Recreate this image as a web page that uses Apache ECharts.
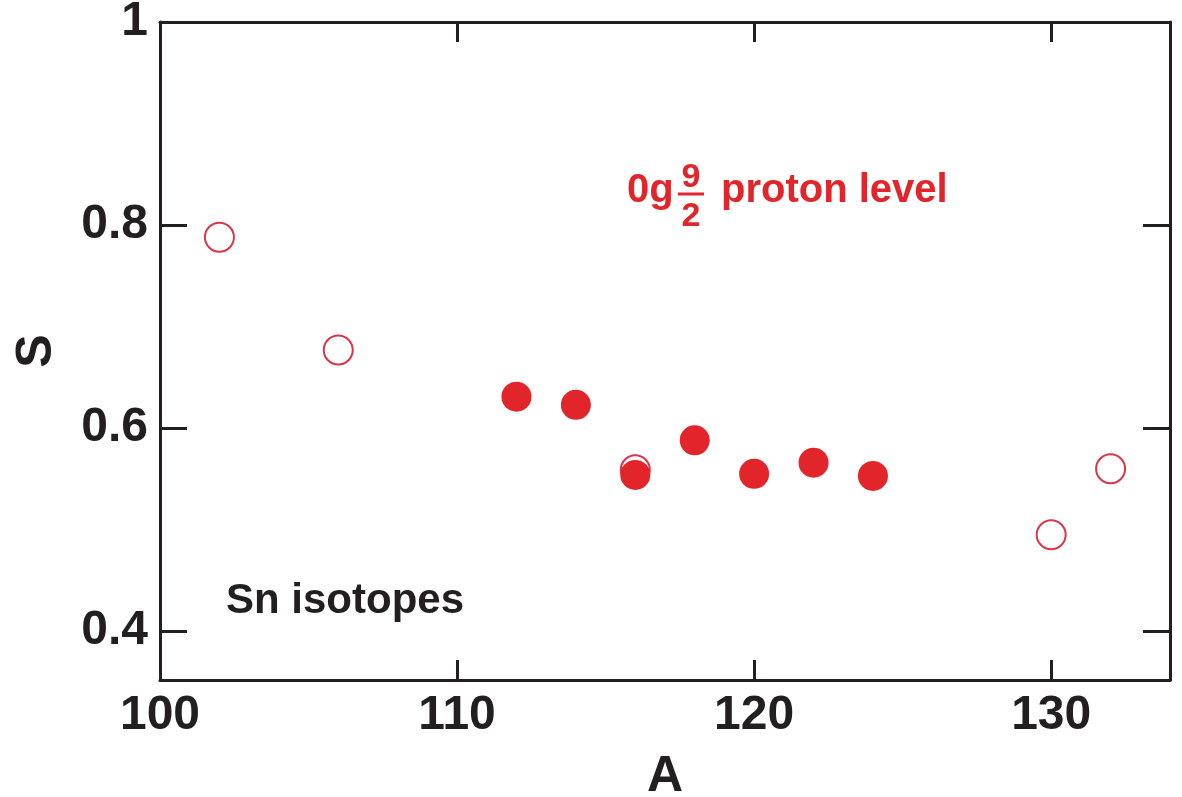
<!DOCTYPE html>
<html>
<head>
<meta charset="utf-8">
<title>Sn isotopes – spectroscopic factor</title>
<script src="https://cdn.jsdelivr.net/npm/echarts@6/dist/echarts.min.js"></script>
<style>
  html, body { margin: 0; padding: 0; background: #ffffff; }
  #chart { width: 1182px; height: 797px; }
</style>
</head>
<body>
<div id="chart"></div>
<script>
// Mass number A and spectroscopic factor S for the 0g9/2 proton level
const openA = [102, 106, 116, 130, 132];
const openS = [0.788, 0.677, 0.559, 0.495, 0.560];
const filledA = [112, 114, 116, 118, 120, 122, 124];
const filledS = [0.631, 0.623, 0.554, 0.588, 0.555, 0.566, 0.553];

const xTicks = [100, 110, 120, 130];
const yTicks = [0.4, 0.6, 0.8, 1];

const INK = '#231f20';
const RED = '#e2252b';
const FONT = '"Liberation Sans", Arial, Helvetica, sans-serif';

const pair = (xs, ys) => xs.map((x, i) => [x, ys[i]]);

const chart = echarts.init(document.getElementById('chart'), null, { renderer: 'canvas' });

const axisLine = { show: true, onZero: false, lineStyle: { color: INK, width: 3 } };

chart.setOption({
  backgroundColor: '#ffffff',
  animation: false,
  grid: { left: 160, right: 12, top: 22, bottom: 117, containLabel: false, outerBoundsMode: 'none' },
  xAxis: [
    {
      type: 'value', position: 'bottom', min: 100, max: 134,
      axisLine: axisLine,
      axisTick: { show: true, inside: true, length: 20, customValues: xTicks, lineStyle: { color: INK, width: 3 } },
      axisLabel: { show: true, customValues: xTicks, margin: 12, color: INK, fontFamily: FONT, fontWeight: 'bold', fontSize: 48 },
      splitLine: { show: false },
      name: 'A', nameLocation: 'middle', nameGap: 72,
      nameTextStyle: { color: INK, fontFamily: FONT, fontWeight: 'bold', fontSize: 50 }
    },
    {
      type: 'value', position: 'top', min: 100, max: 134,
      axisLine: axisLine,
      axisTick: { show: true, inside: true, length: 20, customValues: xTicks, lineStyle: { color: INK, width: 3 } },
      axisLabel: { show: false },
      splitLine: { show: false }
    }
  ],
  yAxis: [
    {
      type: 'value', position: 'left', min: 0.352, max: 1,
      axisLine: axisLine,
      axisTick: { show: true, inside: true, length: 27, customValues: yTicks, lineStyle: { color: INK, width: 3 } },
      axisLabel: { show: true, customValues: yTicks, margin: 12, padding: [8, 0, 0, 0], color: INK, fontFamily: FONT, fontWeight: 'bold', fontSize: 48 },
      splitLine: { show: false },
      name: 'S', nameLocation: 'middle', nameGap: 98, nameRotate: 90,
      nameTextStyle: { color: INK, fontFamily: FONT, fontWeight: 'bold', fontSize: 50 }
    },
    {
      type: 'value', position: 'right', min: 0.352, max: 1,
      axisLine: axisLine,
      axisTick: { show: true, inside: true, length: 27, customValues: yTicks, lineStyle: { color: INK, width: 3 } },
      axisLabel: { show: false },
      splitLine: { show: false }
    }
  ],
  series: [
    {
      name: 'open', type: 'scatter', xAxisIndex: 0, yAxisIndex: 0,
      data: pair(openA, openS),
      symbol: 'circle', symbolSize: 29,
      itemStyle: { color: 'rgba(255,255,255,0)', borderColor: '#d8364a', borderWidth: 2, opacity: 1 },
      z: 2
    },
    {
      name: 'filled', type: 'scatter', xAxisIndex: 0, yAxisIndex: 0,
      data: pair(filledA, filledS),
      symbol: 'circle', symbolSize: 30,
      itemStyle: { color: RED, opacity: 1 },
      z: 3
    }
  ],
  graphic: [
    {
      type: 'text', left: 226, top: 580,
      style: { text: 'Sn isotopes', fill: INK, font: 'bold 42px ' + FONT }
    },
    {
      type: 'group',
      children: [
        { type: 'text', x: 627, y: 171, style: { text: '0g', fill: RED, font: 'bold 40px ' + FONT } },
        { type: 'text', x: 691, y: 161, style: { text: '9', fill: RED, font: 'bold 34px ' + FONT, align: 'center' } },
        { type: 'line', shape: { x1: 678, y1: 194, x2: 704, y2: 194 }, style: { stroke: RED, lineWidth: 3 } },
        { type: 'text', x: 691, y: 200, style: { text: '2', fill: RED, font: 'bold 34px ' + FONT, align: 'center' } },
        { type: 'text', x: 721, y: 171, style: { text: 'proton level', fill: RED, font: 'bold 40px ' + FONT } }
      ]
    }
  ]
});
</script>
</body>
</html>
